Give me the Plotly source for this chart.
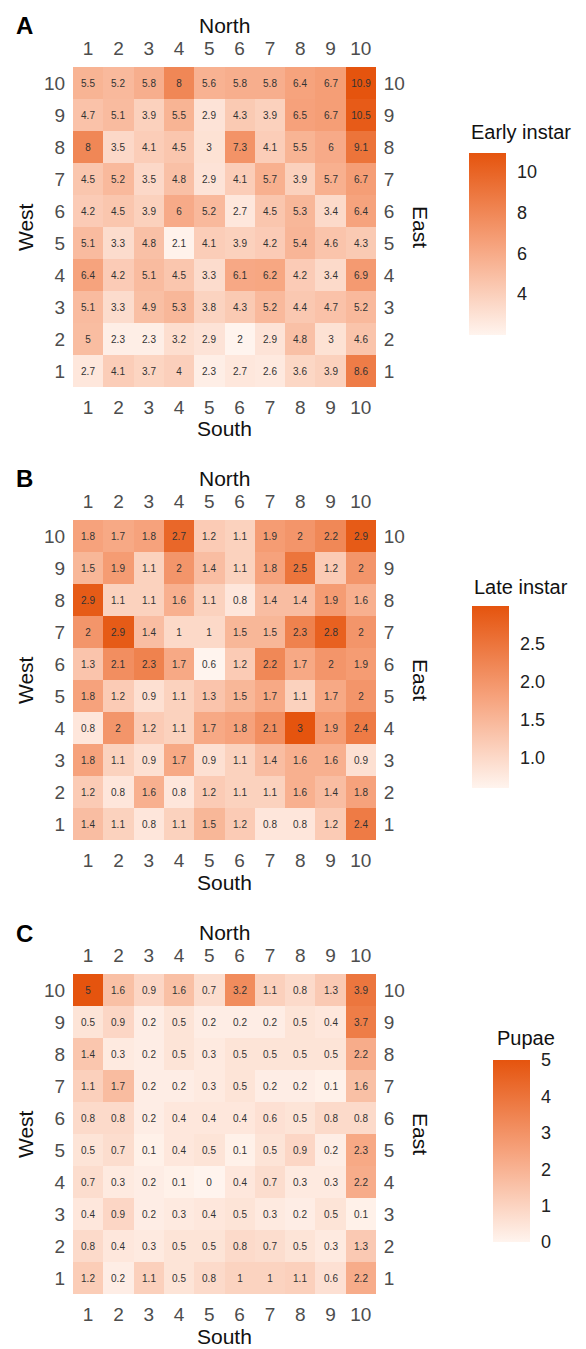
import plotly.graph_objects as go

# page body has an 8px default margin: size the figure to fit inside it
PAGE_W, PAGE_H = 586, 1349
OFF = 8
W, H = PAGE_W - 2 * OFF, PAGE_H - OFF

cols = list(range(1, 11))
rows = list(range(10, 0, -1))  # row order of the data lists below (top to bottom)

early_instar = [
    [5.5, 5.2, 5.8, 8, 5.6, 5.8, 5.8, 6.4, 6.7, 10.9],
    [4.7, 5.1, 3.9, 5.5, 2.9, 4.3, 3.9, 6.5, 6.7, 10.5],
    [8, 3.5, 4.1, 4.5, 3, 7.3, 4.1, 5.5, 6, 9.1],
    [4.5, 5.2, 3.5, 4.8, 2.9, 4.1, 5.7, 3.9, 5.7, 6.7],
    [4.2, 4.5, 3.9, 6, 5.2, 2.7, 4.5, 5.3, 3.4, 6.4],
    [5.1, 3.3, 4.8, 2.1, 4.1, 3.9, 4.2, 5.4, 4.6, 4.3],
    [6.4, 4.2, 5.1, 4.5, 3.3, 6.1, 6.2, 4.2, 3.4, 6.9],
    [5.1, 3.3, 4.9, 5.3, 3.8, 4.3, 5.2, 4.4, 4.7, 5.2],
    [5, 2.3, 2.3, 3.2, 2.9, 2, 2.9, 4.8, 3, 4.6],
    [2.7, 4.1, 3.7, 4, 2.3, 2.7, 2.6, 3.6, 3.9, 8.6],
]

late_instar = [
    [1.8, 1.7, 1.8, 2.7, 1.2, 1.1, 1.9, 2, 2.2, 2.9],
    [1.5, 1.9, 1.1, 2, 1.4, 1.1, 1.8, 2.5, 1.2, 2],
    [2.9, 1.1, 1.1, 1.6, 1.1, 0.8, 1.4, 1.4, 1.9, 1.6],
    [2, 2.9, 1.4, 1, 1, 1.5, 1.5, 2.3, 2.8, 2],
    [1.3, 2.1, 2.3, 1.7, 0.6, 1.2, 2.2, 1.7, 2, 1.9],
    [1.8, 1.2, 0.9, 1.1, 1.3, 1.5, 1.7, 1.1, 1.7, 2],
    [0.8, 2, 1.2, 1.1, 1.7, 1.8, 2.1, 3, 1.9, 2.4],
    [1.8, 1.1, 0.9, 1.7, 0.9, 1.1, 1.4, 1.6, 1.6, 0.9],
    [1.2, 0.8, 1.6, 0.8, 1.2, 1.1, 1.1, 1.6, 1.4, 1.8],
    [1.4, 1.1, 0.8, 1.1, 1.5, 1.2, 0.8, 0.8, 1.2, 2.4],
]

pupae = [
    [5, 1.6, 0.9, 1.6, 0.7, 3.2, 1.1, 0.8, 1.3, 3.9],
    [0.5, 0.9, 0.2, 0.5, 0.2, 0.2, 0.2, 0.5, 0.4, 3.7],
    [1.4, 0.3, 0.2, 0.5, 0.3, 0.5, 0.5, 0.5, 0.5, 2.2],
    [1.1, 1.7, 0.2, 0.2, 0.3, 0.5, 0.2, 0.2, 0.1, 1.6],
    [0.8, 0.8, 0.2, 0.4, 0.4, 0.4, 0.6, 0.5, 0.8, 0.8],
    [0.5, 0.7, 0.1, 0.4, 0.5, 0.1, 0.5, 0.9, 0.2, 2.3],
    [0.7, 0.3, 0.2, 0.1, 0, 0.4, 0.7, 0.3, 0.3, 2.2],
    [0.4, 0.9, 0.2, 0.3, 0.4, 0.5, 0.3, 0.2, 0.5, 0.1],
    [0.8, 0.4, 0.3, 0.5, 0.5, 0.8, 0.7, 0.5, 0.3, 1.3],
    [1.2, 0.2, 1.1, 0.5, 0.8, 1, 1, 1.1, 0.6, 2.2],
]

panel_letters = ["A", "B", "C"]
legend_titles = ["Early instar", "Late instar", "Pupae"]
datasets = [early_instar, late_instar, pupae]
z_ranges = [(2.0, 10.9), (0.6, 3.0), (0.0, 5.0)]
cb_ticks = [[4, 6, 8, 10], [1.0, 1.5, 2.0, 2.5], [0, 1, 2, 3, 4, 5]]
cb_ticktext = [["4", "6", "8", "10"], ["1.0", "1.5", "2.0", "2.5"], ["0", "1", "2", "3", "4", "5"]]

# layout (page pixels)
hm_left, hm_right = 73, 376
hm_tops = [67, 520, 974]
hm_h = 320
cb_x = [469, 472, 493]
cb_top = [153, 606, 1060]
cb_len = 182
leg_title_xy = [(469, 132), (472, 587), (495, 1038)]

FONT = "Liberation Sans, Arial, sans-serif"
colorscale = [[0, "#FFF4EE"], [0.5, "#F6A27C"], [1, "#E5540E"]]

def px_x(x):
    return (x - OFF) / W

def px_y(y):
    return 1 - (y - OFF) / H

fig = go.Figure()
layout = {}
annotations = []

for i in range(3):
    n = i + 1
    ov = i + 4
    xa = "x" if n == 1 else f"x{n}"
    ya = "y" if n == 1 else f"y{n}"
    z = datasets[i]
    text = [[f"{v:g}" for v in r] for r in z]
    zmin, zmax = z_ranges[i]
    fig.add_trace(go.Heatmap(
        x=cols, y=rows, z=z, text=text, texttemplate="%{text}",
        textfont=dict(size=10, color="#333333", family=FONT),
        colorscale=colorscale, zmin=zmin, zmax=zmax,
        xaxis=xa, yaxis=ya, hoverinfo="skip",
        colorbar=dict(
            x=px_x(cb_x[i]), xanchor="left", y=px_y(cb_top[i]), yanchor="top",
            len=cb_len, lenmode="pixels", thickness=37, thicknessmode="pixels",
            outlinewidth=0, xpad=0, ypad=0,
            tickvals=cb_ticks[i], ticktext=cb_ticktext[i],
            ticks="outside", ticklen=8, tickcolor="rgba(255,255,255,0)", tickwidth=1,
            tickfont=dict(size=18, color="#222222", family=FONT),
        ),
    ))
    # invisible trace for the overlay axes (top / right tick labels)
    fig.add_trace(go.Scatter(x=cols, y=cols, mode="none", showlegend=False,
                             hoverinfo="skip", xaxis=f"x{ov}", yaxis=f"y{ov}"))

    top = hm_tops[i]
    dom_x = [px_x(hm_left), px_x(hm_right)]
    dom_y = [px_y(top + hm_h), px_y(top)]
    tick_common = dict(
        range=[0.5, 10.5], tickvals=cols, ticktext=[str(c) for c in cols],
        ticks="outside", ticklen=3, tickcolor="rgba(0,0,0,0)",
        tickfont=dict(size=19, color="#4D4D4D", family=FONT),
        showgrid=False, zeroline=False, showline=False, fixedrange=True,
        automargin=False,
    )
    xkey = "xaxis" if n == 1 else f"xaxis{n}"
    ykey = "yaxis" if n == 1 else f"yaxis{n}"
    layout[xkey] = dict(domain=dom_x, anchor=ya, side="bottom", **tick_common)
    layout[ykey] = dict(domain=dom_y, anchor=xa, side="left", **tick_common)
    layout[f"xaxis{ov}"] = dict(overlaying=xa, anchor=f"y{ov}", side="top", **tick_common)
    layout[f"yaxis{ov}"] = dict(overlaying=ya, anchor=f"x{ov}", side="right", **tick_common)

    cx = (hm_left + hm_right) / 2
    cy = top + hm_h / 2
    title_font = dict(size=21, color="#111111", family=FONT)
    lx, ly = leg_title_xy[i]
    annotations += [
        dict(text="North", x=px_x(cx), y=px_y(top - 42), xref="paper", yref="paper",
             showarrow=False, font=title_font, xanchor="center", yanchor="middle"),
        dict(text="South", x=px_x(cx), y=px_y(top + hm_h + 42), xref="paper", yref="paper",
             showarrow=False, font=title_font, xanchor="center", yanchor="middle"),
        dict(text="West", x=px_x(25), y=px_y(cy), xref="paper", yref="paper",
             showarrow=False, font=title_font, textangle=-90, xanchor="center", yanchor="middle"),
        dict(text="East", x=px_x(421), y=px_y(cy), xref="paper", yref="paper",
             showarrow=False, font=title_font, textangle=90, xanchor="center", yanchor="middle"),
        dict(text=f"<b>{panel_letters[i]}</b>", x=px_x(14), y=px_y(top - 41), xref="paper", yref="paper",
             showarrow=False, font=dict(size=24, color="#000000", family=FONT),
             xanchor="left", yanchor="middle"),
        dict(text=legend_titles[i], x=px_x(lx), y=px_y(ly), xref="paper", yref="paper",
             showarrow=False, font=dict(size=20, color="#111111", family=FONT),
             xanchor="left", yanchor="middle"),
    ]

fig.update_layout(
    width=W, height=H, margin=dict(l=0, r=0, t=0, b=0, autoexpand=False),
    paper_bgcolor="white", plot_bgcolor="white",
    annotations=annotations, showlegend=False,
    **layout,
)

fig.write_html("out.html")
